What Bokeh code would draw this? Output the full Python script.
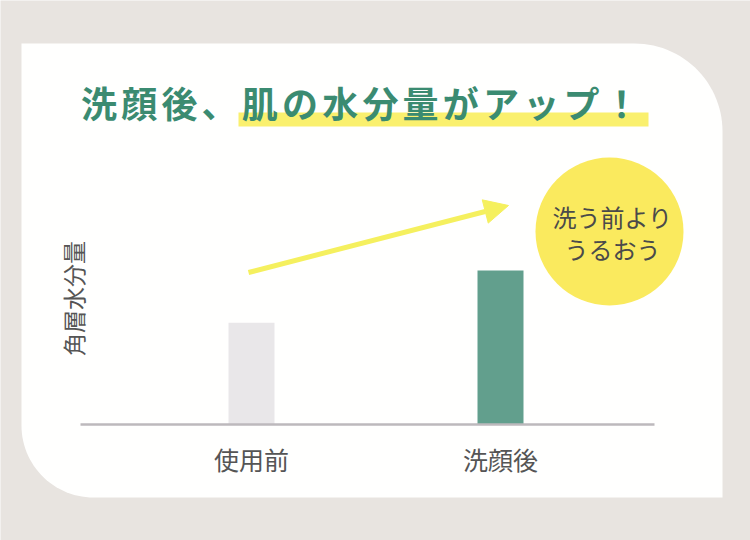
import numpy as np
from bokeh.plotting import figure
from bokeh.models import Range1d, Arrow, NormalHead
from bokeh.core.properties import value
from bokeh.embed import file_html
from bokeh.resources import INLINE

# ---- data ----
categories = ["使用前", "洗顔後"]
moisture = [33, 50]
bar_colors = ["#E9E7E9", "#629F8D"]
title_text = "洗顔後、肌の水分量がアップ！"
y_label = "角層水分量"
badge_lines = ["洗う前より", "うるおう"]

# ---- layout helpers (page pixel -> canvas coords) ----
W, H = 750, 540
def px(X):
    return X
def py(Y):
    return H - Y

FONT = value("Noto Sans CJK JP")
BG = "#E8E4E0"

p = figure(width=W, height=H, x_range=Range1d(0, W), y_range=Range1d(0, H),
           x_axis_type=None, y_axis_type=None, min_border=0,
           toolbar_location=None, output_backend="svg")
p.grid.visible = False
p.outline_line_color = None
p.background_fill_color = BG
p.border_fill_color = BG

# category-slot / value ranges for the bars
pitch = 249.0                 # px between category slots
first = px(251)               # px of first slot centre
p.extra_x_ranges = {"cat": Range1d(-first / pitch, (W - first) / pitch)}
zero_y = py(424)
ppu = 3.08                    # px per value unit
p.extra_y_ranges = {"val": Range1d(-zero_y / ppu, (H - zero_y) / ppu)}
slots = list(range(len(categories)))

# ---- card with rounded top-right and bottom-left corners ----
L, T, R, B = px(21), py(43), px(722), py(497)
r1, r2 = 88, 72
a1 = np.linspace(np.pi / 2, 0, 30)
a2 = np.linspace(3 * np.pi / 2, np.pi, 30)
cx = [L] + list(R - r1 + r1 * np.cos(a1)) + [R] + list(L + r2 + r2 * np.cos(a2))
cy = [T] + list(T - r1 + r1 * np.sin(a1)) + [B] + list(B + r2 + r2 * np.sin(a2))
p.patch(cx, cy, fill_color="#FFFFFE", line_color=None)

# ---- title highlight and title ----
p.quad(left=[px(238)], right=[px(648)], top=[py(112)], bottom=[py(126)],
       fill_color="#FAF06E", line_color=None)
n = len(title_text)
p.text(x=[px(98.5 + 40.2 * i) for i in range(n)], y=[py(101)] * n,
       text=list(title_text), text_font=FONT, text_font_size="36px",
       text_font_style="bold", text_color="#3B8B71",
       text_align="center", text_baseline="middle")

# ---- y label ----
p.text(x=[px(72)], y=[py(298)], text=[y_label], angle=np.pi / 2,
       text_font=FONT, text_font_size="23px", text_color="#555555",
       text_align="center", text_baseline="middle")

# ---- bars ----
p.vbar(x=slots, top=moisture, bottom=0, width=46 / pitch,
       fill_color=bar_colors, line_color=None,
       x_range_name="cat", y_range_name="val")

# baseline
p.segment(x0=[px(80)], y0=[zero_y], x1=[px(654)], y1=[zero_y],
          line_color="#BDB9BC", line_width=2.5)

# category labels
p.text(x=slots, y=[py(458)] * len(categories), text=categories,
       x_range_name="cat", text_font=FONT, text_font_size="25px",
       text_color="#555555", text_align="center", text_baseline="middle")

# ---- arrow ----
p.add_layout(Arrow(end=NormalHead(size=24, fill_color="#F5F05E", line_color="#F5F05E"),
                   x_start=px(248), y_start=py(272), x_end=px(508), y_end=py(205),
                   line_color="#F5F05E", line_width=5))

# ---- badge ----
p.circle(x=[px(609)], y=[py(231)], radius=74, fill_color="#FAEA5E", line_color=None)
p.text(x=[px(612), px(612)], y=[py(216), py(248)], text=badge_lines,
       text_font=FONT, text_font_size="24px", text_color="#4A4A4A",
       text_align="center", text_baseline="middle")

open("out.html", "w").write(file_html(p, INLINE))
